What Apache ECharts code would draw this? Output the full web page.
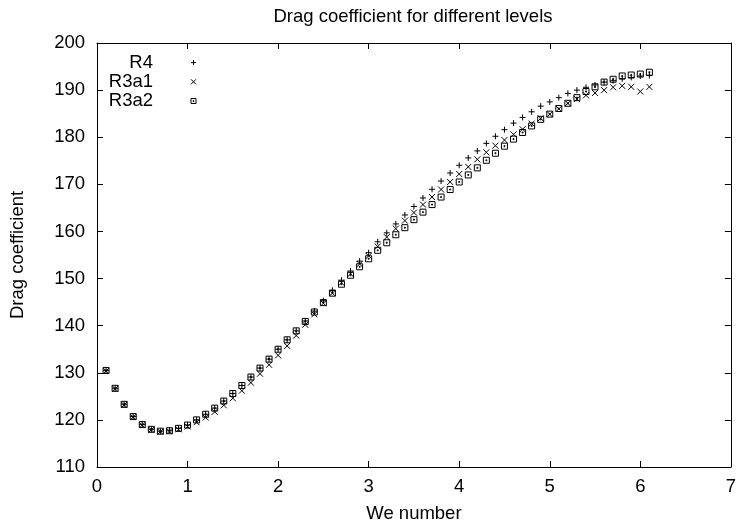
<!DOCTYPE html>
<html>
<head>
<meta charset="utf-8">
<script src="https://cdn.jsdelivr.net/npm/echarts@6/dist/echarts.min.js"></script>
<style>html,body{margin:0;padding:0;background:#fff;}#c{width:739px;height:528px;}</style>
</head>
<body>
<div id="c"></div>
<script>
var weNumber = [0.1,0.2,0.3,0.4,0.5,0.6,0.7,0.8,0.9,1.0,
  1.1,1.2,1.3,1.4,1.5,1.6,1.7,1.8,1.9,2.0,
  2.1,2.2,2.3,2.4,2.5,2.6,2.7,2.8,2.9,3.0,
  3.1,3.2,3.3,3.4,3.5,3.6,3.7,3.8,3.9,4.0,
  4.1,4.2,4.3,4.4,4.5,4.6,4.7,4.8,4.9,5.0,
  5.1,5.2,5.3,5.4,5.5,5.6,5.7,5.8,5.9,6.0,6.1];
var r4 = [130.5,126.7,123.3,120.7,119.0,118.0,117.6,117.7,118.2,118.9,
  120.0,121.2,122.5,124.0,125.6,127.3,129.1,131.0,132.9,135.0,
  137.0,138.9,141.0,143.1,145.3,147.5,149.65,151.6,153.7,155.5,
  157.8,159.7,161.6,163.5,165.3,167.1,168.95,170.7,172.4,174.05,
  175.6,177.1,178.7,180.2,181.6,183.0,184.2,185.4,186.6,187.5,
  188.4,189.3,190.0,190.6,191.1,191.7,192.0,192.4,192.7,193.0,193.1];
var r3a1 = [130.4,126.6,123.2,120.6,118.9,117.9,117.5,117.6,118.0,118.6,
  119.5,120.5,121.7,123.1,124.6,126.2,127.9,129.8,131.7,133.7,
  135.7,137.9,140.2,142.4,144.75,146.9,149.1,151.0,153.1,154.8,
  156.8,158.8,160.6,162.3,164.0,165.7,167.3,168.9,170.5,172.2,
  173.7,175.3,176.8,178.2,179.4,180.6,181.7,182.9,184.0,184.9,
  186.0,187.2,188.1,188.9,189.4,190.0,190.6,190.9,190.7,189.7,190.7];
var r3a2 = [130.5,126.7,123.3,120.7,119.0,118.0,117.6,117.7,118.2,118.9,
  120.0,121.2,122.5,124.0,125.6,127.3,129.1,131.0,132.9,135.0,
  137.0,138.9,140.9,142.9,144.9,146.9,148.8,150.7,152.5,154.2,
  156.0,157.6,159.3,160.8,162.5,164.1,165.7,167.3,168.9,170.5,
  172.0,173.5,175.1,176.6,178.1,179.6,181.0,182.4,183.8,184.9,
  186.1,187.2,188.4,189.7,190.7,191.7,192.3,193.0,193.2,193.4,193.8];
var seriesNames = ['R4','R3a1','R3a2'];
var xTicks = {min:0, max:7, interval:1};
var yTicks = {min:110, max:200, interval:10};

function pairs(ys){ return weNumber.map(function(x,i){ return [x, ys[i]]; }); }

var FONT = 'Liberation Sans';
var FS = 18.5;
var symbols = {
  'R4': 'path://M3,0V6M0,3H6',
  'R3a1': 'path://M0,0L6,6M6,0L0,6',
  'R3a2': 'path://M0,0H6V6H0Z M2.5,2.5H3.5V3.5H2.5Z'
};
var values = {'R4': r4, 'R3a1': r3a1, 'R3a2': r3a2};

function mkSeries(name){
  return {
    name: name, type: 'scatter', data: pairs(values[name]),
    symbol: symbols[name], symbolSize: 6,
    itemStyle: {color: 'rgba(0,0,0,0)', borderColor: '#000', borderWidth: 1, opacity: 1},
    emphasis: {disabled: true}, silent: true
  };
}

var axisCommon = {
  axisLine: {show: true, onZero: false, lineStyle: {color: '#000', width: 1}},
  axisTick: {show: true, inside: true, length: 6, lineStyle: {color: '#000', width: 1}},
  splitLine: {show: false}
};

var chart = echarts.init(document.getElementById('c'), null, {renderer: 'canvas'});
chart.setOption({
  animation: false,
  backgroundColor: '#fff',
  textStyle: {fontFamily: FONT},
  title: {
    text: 'Drag coefficient for different levels',
    left: 413, top: 7, padding: 0, textAlign: 'center',
    textStyle: {fontFamily: FONT, fontSize: FS, fontWeight: 'normal', color: '#000'}
  },
  grid: {left: 97, right: 5, top: 43, bottom: 61, containLabel: false},
  legend: {
    data: seriesNames, orient: 'vertical', align: 'right',
    left: 73, top: 53, padding: 0, itemGap: 0,
    itemWidth: 5, itemHeight: 5,
    itemStyle: {color: 'rgba(0,0,0,0)', borderColor: '#000', borderWidth: 1},
    textStyle: {fontFamily: FONT, fontSize: FS, color: '#000', width: 80, align: 'right', lineHeight: 19.2, padding: [0, 33, 0, 0]},
    selectedMode: false
  },
  xAxis: [
    Object.assign({type: 'value', min: xTicks.min, max: xTicks.max, interval: xTicks.interval, position: 'bottom',
      name: 'We number', nameLocation: 'middle', nameGap: 37,
      nameTextStyle: {fontFamily: FONT, fontSize: FS, color: '#000'},
      axisLabel: {show: true, margin: 10, fontFamily: FONT, fontSize: FS, color: '#000'}}, axisCommon),
    Object.assign({type: 'value', min: xTicks.min, max: xTicks.max, interval: xTicks.interval, position: 'top',
      axisLabel: {show: false}}, axisCommon)
  ],
  yAxis: [
    Object.assign({type: 'value', min: yTicks.min, max: yTicks.max, interval: yTicks.interval, position: 'left',
      name: 'Drag coefficient', nameLocation: 'middle', nameGap: 70, nameRotate: 90,
      nameTextStyle: {fontFamily: FONT, fontSize: FS, color: '#000'},
      axisLabel: {show: true, margin: 12, fontFamily: FONT, fontSize: FS, color: '#000'}}, axisCommon),
    Object.assign({type: 'value', min: yTicks.min, max: yTicks.max, interval: yTicks.interval, position: 'right',
      axisLabel: {show: false}}, axisCommon)
  ],
  series: seriesNames.map(mkSeries)
});
</script>
</body>
</html>
